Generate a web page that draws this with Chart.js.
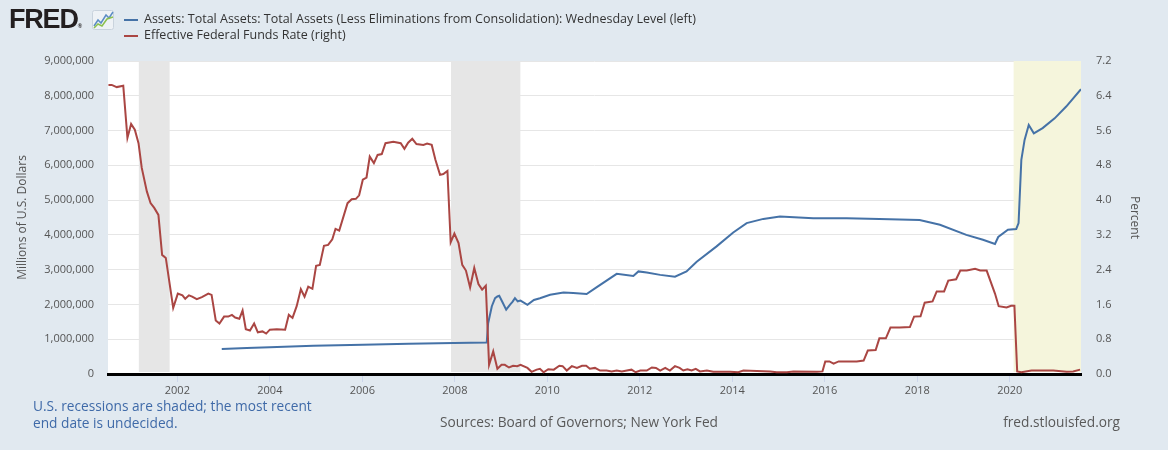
<!DOCTYPE html>
<html>
<head>
<meta charset="utf-8">
<script src="https://cdn.jsdelivr.net/npm/chart.js@4.4.1/dist/chart.umd.min.js"></script>
<style>
  body { margin: 0; background: #e1e9f0; font-family: "Open Sans", sans-serif; }
  #wrap { position: relative; width: 1168px; height: 450px; overflow: hidden; }
  #chart { position: absolute; left: 0; top: 0; }
  .abs { position: absolute; white-space: nowrap; }
  #logo { left: 9px; top: 4px; font-family: "Liberation Sans", sans-serif; font-weight: bold;
          font-size: 27px; letter-spacing: -1.2px; color: #231f20; line-height: 30px; }
  #logo sup { font-size: 6px; letter-spacing: 0; vertical-align: 0; }
  #icon { left: 92px; top: 10px; }
  .key { left: 124px; width: 14px; height: 2px; }
  .lg { left: 144px; font-size: 12.5px; color: #333; line-height: 16px; }
  .note { font-size: 13.7px; line-height: 16.5px; color: #595959; }
</style>
</head>
<body>
<div id="wrap">
  <canvas id="chart" width="1168" height="450"></canvas>
  <div class="abs" id="logo">FRED<sup>®</sup></div>
  <svg class="abs" id="icon" width="22" height="20" viewBox="0 0 22 20">
    <rect x="0.5" y="0.5" width="21" height="19" rx="2" fill="#eef2f6" stroke="#c9d3dd"/>
    <polyline points="2,16 6,10 9,13 14,5 17,8 21,2" fill="none" stroke="#5b8cc4" stroke-width="1.5"/>
    <polyline points="2,18 6,14 10,16 15,9 21,7" fill="none" stroke="#8cc04f" stroke-width="1.5"/>
  </svg>
  <div class="abs key" style="top:19px;background:#4572a7"></div>
  <div class="abs lg" style="top:11px">Assets: Total Assets: Total Assets (Less Eliminations from Consolidation): Wednesday Level (left)</div>
  <div class="abs key" style="top:35px;background:#aa4643"></div>
  <div class="abs lg" style="top:27px">Effective Federal Funds Rate (right)</div>
  <div class="abs note" style="left:33px;top:398px;color:#3f6aa8">U.S. recessions are shaded; the most recent<br>end date is undecided.</div>
  <div class="abs note" style="left:579px;top:414px;transform:translateX(-50%)">Sources: Board of Governors; New York Fed</div>
  <div class="abs note" style="right:48px;top:414px">fred.stlouisfed.org</div>
</div>
<script>
// time axis in decimal years
const xStart = 2000.5;
const xEnd = 2021.54;

// recessions (end null = not decided yet)
const recStart = [2001.167, 2007.917, 2020.083];
const recEnd = [2001.833, 2009.417, null];

// Effective Federal Funds Rate, percent
const fedDates = [
  2000.51, 2000.58, 2000.69, 2000.83, 2000.92, 2001.00, 2001.08, 2001.16, 2001.23, 2001.34,
  2001.42, 2001.50, 2001.59, 2001.67, 2001.75, 2001.91, 2002.01, 2002.11, 2002.17, 2002.25,
  2002.32, 2002.42, 2002.53, 2002.67, 2002.74, 2002.83, 2002.91, 2003.01, 2003.10, 2003.18,
  2003.25, 2003.34, 2003.41, 2003.48, 2003.57, 2003.66, 2003.74, 2003.84, 2003.92, 2004.00,
  2004.15, 2004.33, 2004.41, 2004.49, 2004.58, 2004.67, 2004.75, 2004.83, 2004.92, 2005.00,
  2005.08, 2005.17, 2005.26, 2005.35, 2005.42, 2005.50, 2005.68, 2005.77, 2005.86, 2005.93,
  2006.01, 2006.09, 2006.16, 2006.25, 2006.33, 2006.42, 2006.50, 2006.67, 2006.83, 2006.91,
  2006.99, 2007.08, 2007.17, 2007.32, 2007.40, 2007.50, 2007.58, 2007.68, 2007.75, 2007.84,
  2007.91, 2007.99, 2008.08, 2008.16, 2008.24, 2008.33, 2008.42, 2008.51, 2008.59, 2008.67,
  2008.74, 2008.83, 2008.92, 2009.01, 2009.08, 2009.17, 2009.26, 2009.35, 2009.42, 2009.57,
  2009.66, 2009.77, 2009.84, 2009.92, 2010.02, 2010.14, 2010.26, 2010.33, 2010.42, 2010.53,
  2010.64, 2010.75, 2010.84, 2010.92, 2011.03, 2011.14, 2011.28, 2011.39, 2011.50, 2011.61,
  2011.72, 2011.82, 2011.91, 2012.01, 2012.15, 2012.26, 2012.35, 2012.44, 2012.55, 2012.65,
  2012.76, 2012.86, 2012.94, 2013.03, 2013.12, 2013.21, 2013.30, 2013.45, 2013.59, 2013.95,
  2014.13, 2014.24, 2014.53, 2014.82, 2014.96, 2015.18, 2015.32, 2015.83, 2015.95, 2016.01,
  2016.10, 2016.19, 2016.30, 2016.48, 2016.69, 2016.84, 2016.93, 2017.10, 2017.18, 2017.32,
  2017.42, 2017.62, 2017.84, 2017.93, 2018.07, 2018.16, 2018.33, 2018.42, 2018.58, 2018.67,
  2018.84, 2018.93, 2019.07, 2019.25, 2019.36, 2019.50, 2019.68, 2019.76, 2019.93, 2020.03,
  2020.10, 2020.16, 2020.25, 2020.47, 2020.65, 2020.94, 2021.23, 2021.37, 2021.52
];
const fedRates = [
  6.65, 6.65, 6.60, 6.63, 5.43, 5.75, 5.62, 5.31, 4.74, 4.20,
  3.93, 3.82, 3.66, 2.74, 2.67, 1.52, 1.85, 1.81, 1.73, 1.81,
  1.78, 1.72, 1.77, 1.85, 1.82, 1.23, 1.16, 1.32, 1.32, 1.36,
  1.30, 1.27, 1.46, 1.03, 1.00, 1.16, 0.96, 0.98, 0.93, 1.02,
  1.03, 1.02, 1.36, 1.29, 1.56, 1.95, 1.78, 2.01, 1.96, 2.49,
  2.51, 2.95, 2.97, 3.10, 3.34, 3.30, 3.93, 4.02, 4.03, 4.11,
  4.47, 4.52, 5.00, 4.85, 5.04, 5.06, 5.31, 5.34, 5.31, 5.18,
  5.32, 5.41, 5.29, 5.27, 5.30, 5.27, 4.93, 4.58, 4.60, 4.67,
  3.03, 3.23, 3.01, 2.51, 2.38, 1.99, 2.44, 2.07, 1.94, 2.03,
  0.21, 0.52, 0.12, 0.21, 0.21, 0.15, 0.19, 0.18, 0.21, 0.14,
  0.05, 0.10, 0.12, 0.04, 0.11, 0.10, 0.19, 0.18, 0.08, 0.18,
  0.14, 0.19, 0.19, 0.12, 0.14, 0.08, 0.08, 0.06, 0.08, 0.06,
  0.08, 0.10, 0.04, 0.08, 0.08, 0.15, 0.14, 0.08, 0.14, 0.08,
  0.18, 0.14, 0.08, 0.11, 0.08, 0.12, 0.06, 0.08, 0.05, 0.05,
  0.04, 0.08, 0.07, 0.06, 0.04, 0.04, 0.06, 0.05, 0.06, 0.29,
  0.29, 0.24, 0.29, 0.29, 0.29, 0.31, 0.54, 0.55, 0.82, 0.82,
  1.07, 1.07, 1.08, 1.32, 1.33, 1.64, 1.67, 1.90, 1.90, 2.15,
  2.18, 2.38, 2.38, 2.42, 2.38, 2.38, 1.85, 1.56, 1.53, 1.57,
  1.57, 0.06, 0.04, 0.08, 0.08, 0.08, 0.05, 0.06, 0.10
];

// Fed total assets, millions of dollars (Wednesday level)
const assetDates = [
  2002.96, 2003.50, 2004.00, 2004.94, 2006.01, 2007.00, 2007.98, 2008.69, 2008.72, 2008.80,
  2008.87, 2008.92, 2008.96, 2009.02, 2009.11, 2009.19, 2009.25, 2009.30, 2009.36, 2009.42,
  2009.57, 2009.71, 2009.84, 2010.06, 2010.35, 2010.56, 2010.85, 2011.07, 2011.50, 2011.86,
  2011.97, 2012.15, 2012.44, 2012.76, 2013.01, 2013.23, 2013.66, 2014.02, 2014.31, 2014.67,
  2015.03, 2015.75, 2016.47, 2017.18, 2018.05, 2018.49, 2019.06, 2019.42, 2019.68, 2019.75,
  2019.96, 2020.14, 2020.19, 2020.25, 2020.32, 2020.41, 2020.52, 2020.71, 2020.97, 2021.22,
  2021.54
];
const assetValues = [
  719000, 745000, 770000, 813000, 842000, 868000, 890000, 908000, 1460000, 1950000,
  2180000, 2230000, 2250000, 2090000, 1850000, 1990000, 2080000, 2180000, 2090000, 2110000,
  1990000, 2130000, 2180000, 2280000, 2340000, 2330000, 2300000, 2500000, 2880000, 2820000,
  2950000, 2920000, 2850000, 2800000, 2950000, 3230000, 3670000, 4070000, 4340000, 4460000,
  4530000, 4480000, 4480000, 4460000, 4430000, 4290000, 4000000, 3860000, 3740000, 3940000,
  4150000, 4170000, 4340000, 6160000, 6730000, 7160000, 6920000, 7070000, 7350000, 7690000,
  8190000
];

const fontFam = '"Open Sans", sans-serif';
const tickColor = '#555';

const shade = {
  id: 'shade',
  beforeDraw(chart) {
    const { ctx, chartArea: a } = chart;
    ctx.save();
    ctx.fillStyle = '#ffffff';
    ctx.fillRect(a.left, a.top, a.width, a.height);
    ctx.restore();
  },
  beforeDatasetsDraw(chart) {
    const { ctx, chartArea: a, scales } = chart;
    const x = scales.x;
    ctx.save();
    recStart.forEach((s, i) => {
      const e = recEnd[i];
      const x0 = Math.max(x.getPixelForValue(s), a.left);
      const x1 = e === null ? a.right : x.getPixelForValue(e);
      ctx.fillStyle = e === null ? '#f5f5dc' : '#e6e6e6';
      ctx.fillRect(x0, a.top, x1 - x0, a.height - 2);
    });
    ctx.restore();
  }
};

new Chart(document.getElementById('chart'), {
  type: 'line',
  data: {
    datasets: [
      {
        label: 'Assets: Total Assets: Total Assets (Less Eliminations from Consolidation): Wednesday Level (left)',
        data: assetDates.map((d, i) => ({ x: d, y: assetValues[i] })),
        borderColor: '#4572a7',
        borderWidth: 2,
        yAxisID: 'y',
        order: 2
      },
      {
        label: 'Effective Federal Funds Rate (right)',
        data: fedDates.map((d, i) => ({ x: d, y: fedRates[i] })),
        borderColor: '#aa4643',
        borderWidth: 2,
        yAxisID: 'y2',
        order: 1
      }
    ]
  },
  plugins: [shade],
  options: {
    responsive: false,
    animation: false,
    devicePixelRatio: 1,
    layout: { padding: { top: 61, left: 0, right: 0, bottom: 0 } },
    elements: { point: { radius: 0 }, line: { tension: 0 } },
    plugins: { legend: { display: false }, tooltip: { enabled: false } },
    scales: {
      x: {
        type: 'linear',
        min: xStart,
        max: xEnd,
        afterFit: (s) => { s.height = 76; },
        grid: { drawOnChartArea: false, drawTicks: true, tickLength: 8, color: '#ccd6eb' },
        border: { display: true, color: '#000', width: 3 },
        ticks: {
          stepSize: 2, includeBounds: false, autoSkip: false, maxRotation: 0, padding: 2,
          color: tickColor, font: { family: fontFam, size: 11 },
          callback: (v) => String(v)
        }
      },
      y: {
        position: 'left',
        min: 0,
        max: 9000000,
        afterFit: (s) => { s.width = 108; },
        grid: { color: '#e6e6e6', drawTicks: false },
        border: { display: false },
        ticks: {
          stepSize: 1000000, padding: 14, color: tickColor, font: { family: fontFam, size: 11 },
          callback: (v) => v.toLocaleString('en-US')
        },
        title: {
          display: true, text: 'Millions of U.S. Dollars', color: tickColor,
          font: { family: fontFam, size: 12 }, padding: { top: 15, bottom: 0 }
        }
      },
      y2: {
        position: 'right',
        min: 0,
        max: 7.2,
        afterFit: (s) => { s.width = 87; },
        grid: { drawOnChartArea: false, drawTicks: false },
        border: { display: false },
        ticks: {
          stepSize: 0.8, padding: 15, color: tickColor, font: { family: fontFam, size: 11 },
          callback: (v) => v.toFixed(1)
        },
        title: {
          display: true, text: 'Percent', color: tickColor,
          font: { family: fontFam, size: 12 }, padding: { top: 26, bottom: 0 }
        }
      }
    }
  }
});
</script>
</body>
</html>
